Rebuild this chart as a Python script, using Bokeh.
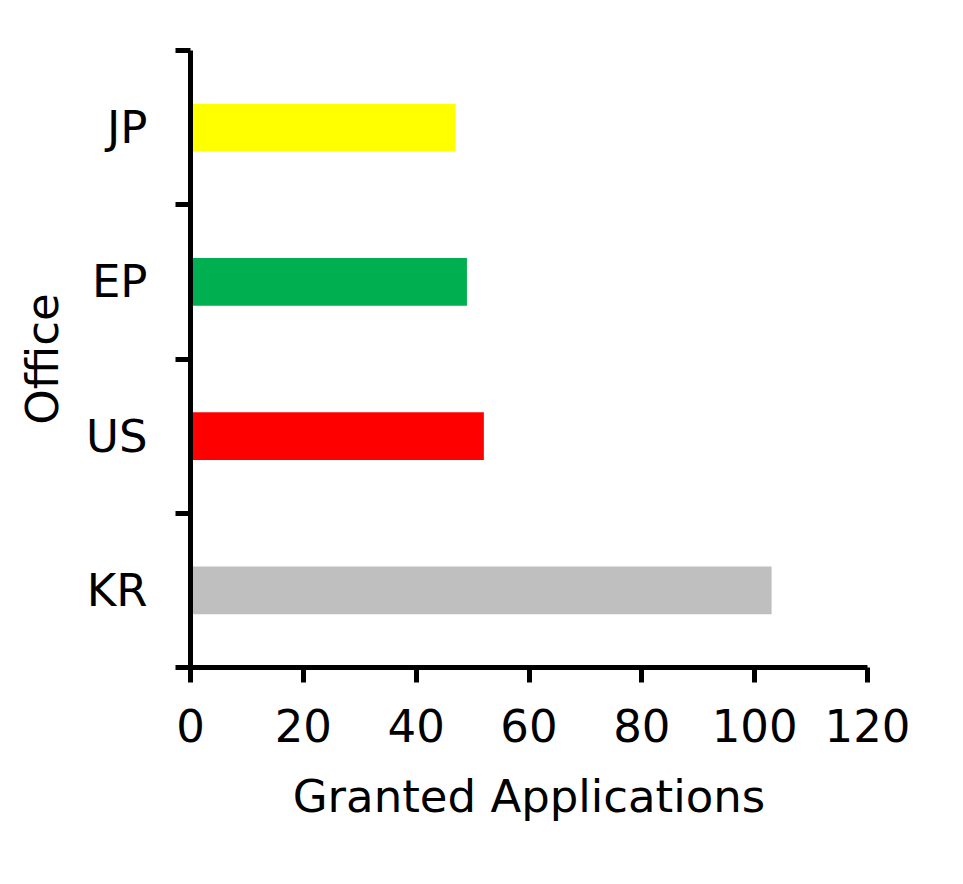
from bokeh.plotting import figure
from bokeh.models import LinearAxis, FixedTicker, Range1d
from bokeh.embed import file_html
from bokeh.resources import INLINE

offices = ["KR", "US", "EP", "JP"]
granted = [103, 52, 49, 47]
colors = ["#BFBFBF", "#FF0000", "#00B050", "#FFFF00"]
x_ticks = [0, 20, 40, 60, 80, 100, 120]

ypos = [i + 0.5 for i in range(len(offices))]
bounds = list(range(len(offices) + 1))

FONT = "DejaVu Sans"
FS = "45px"
TXT = "#000000"

p = figure(width=955, height=880, output_backend="svg", toolbar_location=None,
           x_range=Range1d(0, 120), y_range=Range1d(0, len(offices)),
           x_axis_location=None, y_axis_location=None,
           min_border_left=190, min_border_right=88,
           min_border_top=50, min_border_bottom=213)
p.outline_line_color = None
p.xgrid.visible = False
p.ygrid.visible = False

p.hbar(y=ypos, right=granted, left=0, height=0.31, color=colors, line_color=None)

# x axis
xa = LinearAxis(ticker=FixedTicker(ticks=x_ticks), axis_label="Granted Applications")
xa.axis_line_width = 5
xa.major_tick_line_width = 5
xa.major_tick_out = 15
xa.major_tick_in = 0
xa.minor_tick_line_color = None
xa.major_label_text_font = FONT
xa.major_label_text_font_size = FS
xa.major_label_text_color = TXT
xa.major_label_standoff = 26
xa.axis_label_text_font = FONT
xa.axis_label_text_font_size = FS
xa.axis_label_text_font_style = "normal"
xa.axis_label_text_color = TXT
xa.axis_label_standoff = 25
p.add_layout(xa, "below")

# y axis: boundary ticks
ya = LinearAxis(ticker=FixedTicker(ticks=bounds),
                major_label_overrides={b: "" for b in bounds})
ya.axis_line_width = 5
ya.major_tick_line_width = 5
ya.major_tick_out = 15
ya.major_tick_in = 0
ya.minor_tick_line_color = None
ya.major_label_standoff = 0
p.add_layout(ya, "left")

# y axis: category labels
yl = LinearAxis(ticker=FixedTicker(ticks=ypos),
                major_label_overrides={y: o for y, o in zip(ypos, offices)},
                axis_label="Office")
yl.axis_line_color = None
yl.major_tick_line_color = None
yl.minor_tick_line_color = None
yl.major_tick_out = 0
yl.major_tick_in = 0
yl.major_label_standoff = 28
yl.major_label_text_font = FONT
yl.major_label_text_font_size = FS
yl.major_label_text_color = TXT
yl.axis_label_text_font = FONT
yl.axis_label_text_font_size = FS
yl.axis_label_text_font_style = "normal"
yl.axis_label_text_color = TXT
yl.axis_label_standoff = 14
p.add_layout(yl, "left")

open("out.html", "w").write(file_html(p, INLINE))
